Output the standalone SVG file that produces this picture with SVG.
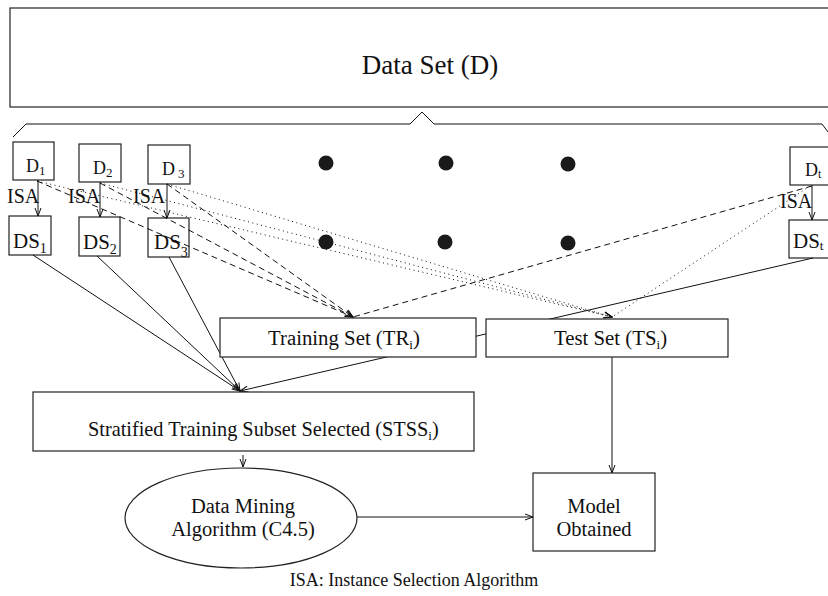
<svg xmlns="http://www.w3.org/2000/svg" width="828" height="596" viewBox="0 0 828 596">
<style>
.box{fill:#fff;stroke:#222;stroke-width:1.2}
.t{font-family:"Liberation Serif","Times New Roman",serif;fill:#111}
.c{fill:none;stroke:#111;stroke-width:1}
.dash{stroke-dasharray:6,4}
.dot{stroke-dasharray:1,3.5}
.dotc{fill:#1a1a1a}
</style>
<defs>
<marker id="ah" markerWidth="10" markerHeight="8" refX="9" refY="4" orient="auto" markerUnits="userSpaceOnUse">
<path d="M1,1 L9,4 L1,7" fill="none" stroke="#111" stroke-width="1"/>
</marker>
</defs>
<rect width="828" height="596" fill="#fff"/>

<g id="dataset">
<rect class="box" x="10" y="8" width="830" height="99"/>
<text class="t" x="430" y="74" font-size="27" text-anchor="middle">Data Set (D)</text>
</g>
<g id="brace">
<polyline class="c" points="13,137 26,124 410,124 422,112 434,124 822,124 828,132"/>
</g>

<g id="d1"><rect class="box" x="13" y="142" width="41" height="38"/><text class="t" x="26" y="172" font-size="18">D<tspan font-size="13" dy="3">1</tspan></text></g>
<g id="d2"><rect class="box" x="79" y="144" width="42" height="38"/><text class="t" x="93" y="174" font-size="18">D<tspan font-size="13" dy="3">2</tspan></text></g>
<g id="d3"><rect class="box" x="148" y="145" width="42" height="39"/><text class="t" x="162" y="175" font-size="18">D<tspan font-size="13" dx="3" dy="3">3</tspan></text></g>
<g id="dt"><rect class="box" x="790" y="147" width="45" height="38"/><text class="t" x="805" y="176" font-size="18">D<tspan font-size="12" dy="2">t</tspan></text></g>

<g id="ds1"><rect class="box" x="9" y="216" width="42" height="39"/><text class="t" x="13" y="248" font-size="21">DS<tspan font-size="14" dy="5">1</tspan></text></g>
<g id="ds2"><rect class="box" x="79" y="217" width="41" height="39"/><text class="t" x="83" y="249" font-size="21">DS<tspan font-size="14" dy="5">2</tspan></text></g>
<g id="ds3"><rect class="box" x="148" y="218" width="41" height="39"/><text class="t" x="154" y="249" font-size="21">DS<tspan font-size="14" dy="8">3</tspan></text></g>
<g id="dst"><rect class="box" x="789" y="220" width="46" height="38"/><text class="t" x="793" y="248" font-size="21">DS<tspan font-size="13" dy="2">t</tspan></text></g>

<g id="dots">
<circle class="dotc" cx="326" cy="163" r="7.5"/>
<circle class="dotc" cx="446" cy="163" r="7.5"/>
<circle class="dotc" cx="568" cy="164" r="7.5"/>
<circle class="dotc" cx="326" cy="242" r="7.5"/>
<circle class="dotc" cx="445" cy="242" r="7.5"/>
<circle class="dotc" cx="568" cy="243" r="7.5"/>
</g>

<g id="connectors">
<line class="c" x1="38" y1="180" x2="38" y2="216" marker-end="url(#ah)"/>
<line class="c" x1="100" y1="182" x2="100" y2="217" marker-end="url(#ah)"/>
<line class="c" x1="167" y1="184" x2="167" y2="218" marker-end="url(#ah)"/>
<line class="c" x1="812" y1="185" x2="812" y2="220" marker-end="url(#ah)"/>

<line class="c dash" x1="37" y1="181" x2="353" y2="317" marker-end="url(#ah)"/>
<line class="c dash" x1="100" y1="183" x2="353" y2="317" marker-end="url(#ah)"/>
<line class="c dash" x1="167" y1="184" x2="353" y2="317" marker-end="url(#ah)"/>
<line class="c dash" x1="812" y1="186" x2="353" y2="317"/>

<line class="c dot" x1="37" y1="181" x2="612" y2="317" marker-end="url(#ah)"/>
<line class="c dot" x1="100" y1="183" x2="612" y2="317" marker-end="url(#ah)"/>
<line class="c dot" x1="167" y1="184" x2="612" y2="317" marker-end="url(#ah)"/>
<line class="c dot" x1="810" y1="186" x2="612" y2="317"/>

<line class="c" x1="33" y1="255" x2="240" y2="391" marker-end="url(#ah)"/>
<line class="c" x1="97" y1="256" x2="240" y2="391" marker-end="url(#ah)"/>
<line class="c" x1="169" y1="257" x2="240" y2="391" marker-end="url(#ah)"/>
<line class="c" x1="813" y1="258" x2="240" y2="391" marker-end="url(#ah)"/>

<line class="c" x1="243" y1="455" x2="243" y2="467" marker-end="url(#ah)"/>
<line class="c" x1="357" y1="517" x2="533" y2="517" marker-end="url(#ah)"/>
<line class="c" x1="612" y1="357" x2="612" y2="473" marker-end="url(#ah)"/>
</g>

<g id="isa-labels">
<text class="t" x="7" y="203" font-size="20">ISA</text>
<text class="t" x="68" y="203" font-size="20">ISA</text>
<text class="t" x="133" y="203" font-size="20">ISA</text>
<text class="t" x="780" y="208" font-size="20">ISA</text>
</g>

<g id="training">
<rect class="box" x="220" y="318" width="256" height="39"/>
<text class="t" x="268" y="345" font-size="20.8">Training Set (TR<tspan font-size="13" dy="4">i</tspan><tspan dy="-4">)</tspan></text>
</g>
<g id="test">
<rect class="box" x="486" y="319" width="242" height="38"/>
<text class="t" x="554" y="345" font-size="20.8">Test Set (TS<tspan font-size="13" dy="4">i</tspan><tspan dy="-4">)</tspan></text>
</g>
<g id="stss">
<rect class="box" x="33" y="392" width="441" height="59"/>
<text class="t" x="88" y="436" font-size="20.3">Stratified Training Subset Selected (STSS<tspan font-size="13" dy="4">i</tspan><tspan dy="-4">)</tspan></text>
</g>
<g id="dm">
<ellipse class="box" cx="241" cy="518" rx="116" ry="50"/>
<text class="t" x="243" y="513" font-size="20.5" text-anchor="middle">Data Mining</text>
<text class="t" x="243" y="536" font-size="20.5" text-anchor="middle">Algorithm (C4.5)</text>
</g>
<g id="model">
<rect class="box" x="533" y="473" width="122" height="78"/>
<text class="t" x="594" y="513" font-size="20.5" text-anchor="middle">Model</text>
<text class="t" x="594" y="536" font-size="20.5" text-anchor="middle">Obtained</text>
</g>
<text class="t" x="414" y="586" font-size="18" text-anchor="middle">ISA: Instance Selection Algorithm</text>
</svg>
